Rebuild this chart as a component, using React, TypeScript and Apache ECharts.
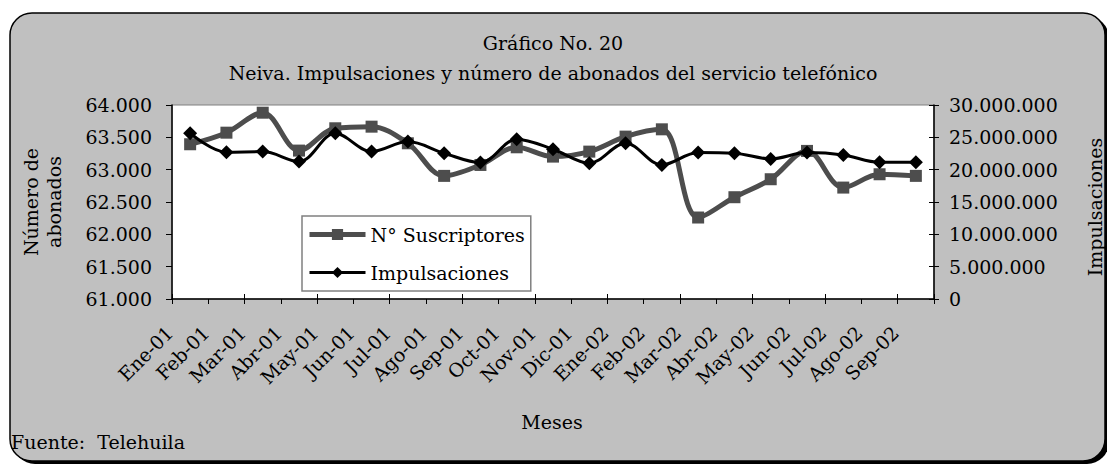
import React, { useEffect, useRef } from "react";
import * as echarts from "echarts";

const months = [
  "Ene-01", "Feb-01", "Mar-01", "Abr-01", "May-01", "Jun-01", "Jul-01",
  "Ago-01", "Sep-01", "Oct-01", "Nov-01", "Dic-01", "Ene-02", "Feb-02",
  "Mar-02", "Abr-02", "May-02", "Jun-02", "Jul-02", "Ago-02", "Sep-02",
];

const suscriptores = [
  63393, 63572, 63881, 63295, 63640, 63665, 63408, 62904, 63073, 63346,
  63202, 63279, 63511, 63624, 62260, 62574, 62852, 63290, 62723, 62929, 62904,
];

const impulsaciones = [
  25630000, 22700000, 22790000, 21250000, 25630000, 22790000, 24340000,
  22540000, 21090000, 24700000, 23160000, 21000000, 24090000, 20730000,
  22640000, 22540000, 21660000, 22640000, 22280000, 21150000, 21150000,
];

const FONT = "DejaVu Serif";
const FS = 19;

const fmt = (v: number) =>
  String(Math.round(v)).replace(/\B(?=(\d{3})+(?!\d))/g, ".");

export default function App() {
  const ref = useRef<HTMLDivElement>(null);

  useEffect(() => {
    document.body.style.margin = "0";
    if (!ref.current) return;
    const chart = echarts.init(ref.current, null, { renderer: "svg" });
    const axisText = { color: "#000", fontFamily: FONT, fontSize: FS };
    const txt = (text: string, x: number, y: number, align: string, extra: any = {}) => ({
      type: "text",
      x,
      y,
      ...extra,
      style: {
        text,
        fontFamily: FONT,
        fontSize: FS,
        lineHeight: 23,
        fill: "#000",
        textAlign: align,
        textVerticalAlign: "middle",
      },
    });
    chart.setOption({
      animation: false,
      backgroundColor: "#fff",
      textStyle: { fontFamily: FONT, color: "#000" },
      graphic: [
        {
          type: "rect",
          z: -10,
          silent: true,
          shape: { x: 13, y: 16, width: 1096, height: 448, r: 22 },
          style: { fill: "#000" },
        },
        {
          type: "rect",
          z: -9,
          silent: true,
          shape: { x: 10, y: 13, width: 1095, height: 448, r: 22 },
          style: { fill: "#c0c0c0", stroke: "#000", lineWidth: 1.5 },
        },
        txt("Gráfico No. 20", 553, 43, "center"),
        txt("Neiva. Impulsaciones y número de abonados del servicio telefónico", 553, 73, "center"),
        txt("Número de\nabonados", 42, 202, "center", { rotation: Math.PI / 2 }),
        txt("Impulsaciones", 1095, 207, "center", { rotation: Math.PI / 2 }),
        txt("Meses", 552, 422, "center"),
        txt("Fuente:  Telehuila", 11, 442, "left"),
      ],
      grid: {
        left: 172,
        right: 173,
        top: 105,
        bottom: 166,
        show: true,
        backgroundColor: "#fff",
        borderColor: "#808080",
        borderWidth: 1,
        containLabel: false,
      },
      legend: {
        orient: "vertical",
        left: 302,
        top: 216,
        itemWidth: 56,
        itemHeight: 14,
        itemGap: 19,
        padding: [9, 6, 9, 5],
        backgroundColor: "#fff",
        borderColor: "#808080",
        borderWidth: 1.5,
        borderRadius: 0,
        textStyle: { color: "#000", fontFamily: FONT, fontSize: FS },
        data: [
          {
            name: "N° Suscriptores",
            lineStyle: { width: 5, color: "#4d4d4d" },
            itemStyle: { color: "#4d4d4d" },
          },
          {
            name: "Impulsaciones",
            lineStyle: { width: 3, color: "#000" },
            itemStyle: { color: "#000" },
          },
        ],
      },
      xAxis: [
        {
          type: "category",
          data: months,
          position: "bottom",
          boundaryGap: true,
          axisLine: { show: true, lineStyle: { color: "#000", width: 1.5 } },
          axisTick: { show: true, length: 5, lineStyle: { color: "#000" } },
          axisLabel: {
            ...axisText,
            rotate: 45,
            interval: 0,
            margin: 10,
            align: "right",
            verticalAlign: "middle",
            padding: [0, 29, 0, 0],
          },
          splitLine: { show: false },
        },
        {
          type: "category",
          data: months,
          position: "bottom",
          boundaryGap: true,
          axisLine: { show: false },
          axisTick: { show: true, inside: true, length: 5, lineStyle: { color: "#000" } },
          axisLabel: { show: false },
          splitLine: { show: false },
        },
      ],
      yAxis: [
        {
          type: "value",
          position: "left",
          min: 61000,
          max: 64000,
          interval: 500,
          axisLine: { show: true, lineStyle: { color: "#000", width: 1.5 } },
          axisTick: { show: true, length: 6, lineStyle: { color: "#000" } },
          axisLabel: { ...axisText, margin: 20, formatter: (v: number) => fmt(v) },
          splitLine: { show: false },
        },
        {
          type: "value",
          position: "right",
          min: 0,
          max: 30000000,
          interval: 5000000,
          axisLine: { show: true, lineStyle: { color: "#000", width: 1.5 } },
          axisTick: { show: true, length: 5, lineStyle: { color: "#000" } },
          axisLabel: { ...axisText, margin: 15, formatter: (v: number) => fmt(v) },
          splitLine: { show: false },
        },
        {
          type: "value",
          position: "right",
          min: 0,
          max: 30000000,
          interval: 5000000,
          axisLine: { show: false },
          axisTick: { show: true, inside: true, length: 5, lineStyle: { color: "#000" } },
          axisLabel: { show: false },
          splitLine: { show: false },
        },
      ],
      series: [
        {
          name: "N° Suscriptores",
          type: "line",
          xAxisIndex: 0,
          yAxisIndex: 0,
          data: suscriptores,
          smooth: 0.35,
          symbol: "rect",
          symbolSize: 12,
          showAllSymbol: true,
          lineStyle: { color: "#4d4d4d", width: 5 },
          itemStyle: { color: "#4d4d4d", borderWidth: 0 },
          z: 3,
        },
        {
          name: "Impulsaciones",
          type: "line",
          xAxisIndex: 0,
          yAxisIndex: 1,
          data: impulsaciones,
          smooth: 0.35,
          symbol: "diamond",
          symbolSize: 14,
          showAllSymbol: true,
          lineStyle: { color: "#000", width: 3 },
          itemStyle: { color: "#000", borderWidth: 0 },
          z: 4,
        },
      ],
    });
    return () => chart.dispose();
  }, []);

  return <div ref={ref} style={{ width: 1107, height: 465 }} />;
}
